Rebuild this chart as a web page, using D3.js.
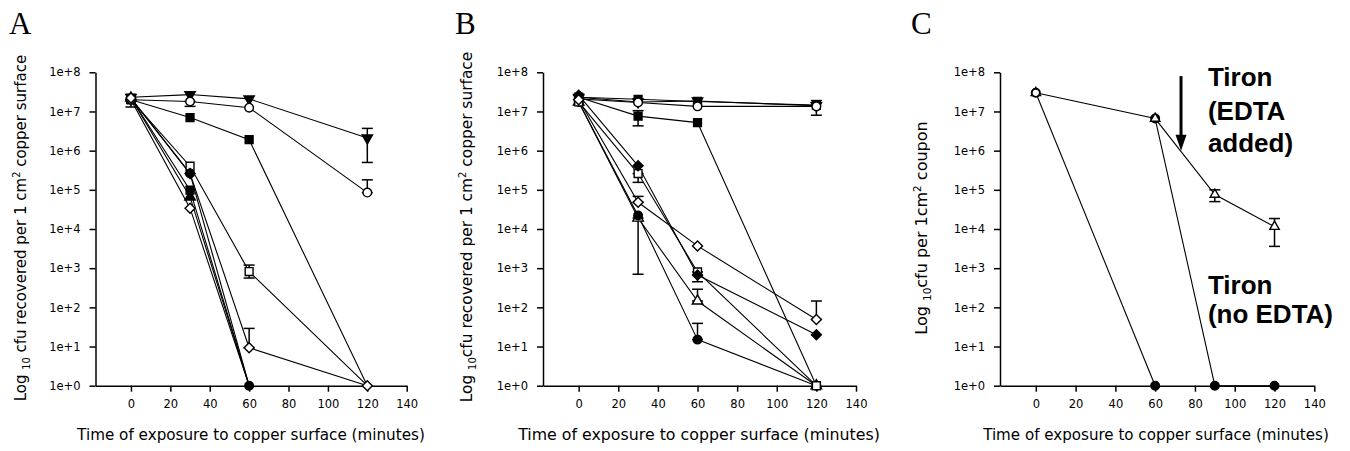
<!DOCTYPE html>
<html>
<head>
<meta charset="utf-8">
<script src="https://cdn.jsdelivr.net/npm/d3@7"></script>
<style>
body { margin: 0; background: #fff; }
svg { display: block; }
.axis path, .axis line { stroke: #000; stroke-width: 1.5; }
.axis text { font-family: "DejaVu Sans"; font-size: 11.5px; fill: #000; }
.lbl { font-family: "DejaVu Sans"; fill: #000; }
</style>
</head>
<body>
<svg id="fig" width="1350" height="451"></svg>
<script>
// ---- data ----
var xTicks = [0, 20, 40, 60, 80, 100, 120, 140]
var yTicks = [1, 1e1, 1e2, 1e3, 1e4, 1e5, 1e6, 1e7, 1e8]
var yTickLabels = ["1e+0", "1e+1", "1e+2", "1e+3", "1e+4", "1e+5", "1e+6", "1e+7", "1e+8"]

var t4 = [0, 30, 60, 120]
var t3 = [0, 30, 60]

// panel A
var aTriDown  = [2.3e7, 2.7e7, 2.1e7, 2.1e6]
var aCircOpen = [2.0e7, 1.8e7, 1.25e7, 8.5e4]
var aSqFill   = [2.0e7, 7.0e6, 1.9e6, 1]
var aSqOpen   = [2.0e7, 4.0e5, 8.2e2, 1]
var aDiaOpen  = [2.2e7, 2.6e5, 9.3, 1]
var aSqFill2  = [2.2e7, 9.8e4, 1]
var aTriFill  = [2.2e7, 6.6e4, 1]
var aDiaOpen2 = [2.0e7, 3.4e4, 1]
var aCircFill = [2.2e7, 2.6e5, 1]
// error bars [time, low, high]
var aTriDownErr  = [[120, 5.0e5, 3.7e6]]
var aCircOpenErr = [[30, 1.35e7, 1.8e7], [120, 8.5e4, 1.8e5]]
var aSqOpenErr   = [[60, 5.6e2, 1.2e3]]
var aDiaOpenErr  = [[60, 9.3, 29]]
var aDiaOpen2Err = [[0, 1.3e7, 2.0e7]]

// panel B
var bSqFill   = [2.3e7, 2.05e7, 1.8e7, 1.45e7]
var bTriDown  = [2.3e7, 1.75e7, 1.85e7, 1.4e7]
var bCircOpen = [2.1e7, 1.7e7, 1.35e7, 1.35e7]
var bSqFill2  = [2.3e7, 7.6e6, 5.2e6, 1]
var bDiaFill  = [2.6e7, 4.1e5, 6.7e2, 20]
var bDiaOpen  = [2.0e7, 4.8e4, 3.7e3, 49]
var bTriOpen  = [1.75e7, 1.9e4, 1.45e2, 1]
var bCircFill = [1.75e7, 2.2e4, 15, 1]
var bSqOpen   = [1.75e7, 2.6e5, 8.0e2, 1]
var bTriDownErr = [[120, 8.0e6, 1.9e7]]
var bSqFill2Err = [[30, 4.3e6, 1.05e7]]
var bDiaOpenErr = [[30, 4.8e4, 6.8e4], [120, 49, 1.45e2]]
var bTriOpenErr = [[30, 7.0e2, 1.9e4], [60, 1.45e2, 2.9e2]]
var bCircFillErr = [[60, 15, 39]]
var bSqOpenErr  = [[30, 1.55e5, 2.6e5], [60, 4.5e2, 8.0e2]]

// panel C
var cTimesNoEdta = [0, 60]
var cNoEdta      = [3.0e7, 1]
var cTimesLate   = [60, 90, 120]
var cLate        = [6.6e6, 1, 1]
var cTimesEdta   = [0, 60, 90, 120]
var cEdta        = [3.0e7, 6.6e6, 7.6e4, 1.15e4]
var cEdtaErr     = [[90, 5.0e4, 1.0e5], [120, 3.6e3, 1.85e4]]

var seriesA = [
	{t: t4, v: aTriDown,  shape: "triDown", fill: true,  err: aTriDownErr},
	{t: t4, v: aCircOpen, shape: "circle",  fill: false, err: aCircOpenErr},
	{t: t4, v: aSqFill,   shape: "square",  fill: true, skip: [3]},
	{t: t4, v: aSqOpen,   shape: "square",  fill: false, err: aSqOpenErr, skip: [3]},
	{t: t3, v: aSqFill2,  shape: "square",  fill: true, skip: [2]},
	{t: t3, v: aTriFill,  shape: "triUp",   fill: true, skip: [2]},
	{t: t3, v: aDiaOpen2, shape: "diamond", fill: false, err: aDiaOpen2Err, skip: [2]},
	{t: t4, v: aDiaOpen,  shape: "diamond", fill: false, err: aDiaOpenErr},
	{t: t3, v: aCircFill, shape: "circle",  fill: true, skip: [0]}
]
var seriesB = [
	{t: t4, v: bSqFill,   shape: "square",  fill: true},
	{t: t4, v: bTriDown,  shape: "triDown", fill: true,  err: bTriDownErr},
	{t: t4, v: bCircOpen, shape: "circle",  fill: false},
	{t: t4, v: bSqFill2,  shape: "square",  fill: true,  err: bSqFill2Err},
	{t: t4, v: bTriOpen,  shape: "triUp",   fill: false, err: bTriOpenErr},
	{t: t4, v: bCircFill, shape: "circle",  fill: true,  err: bCircFillErr},
	{t: t4, v: bSqOpen,   shape: "square",  fill: false, err: bSqOpenErr},
	{t: t4, v: bDiaFill,  shape: "diamond", fill: true},
	{t: t4, v: bDiaOpen,  shape: "diamond", fill: false, err: bDiaOpenErr}
]
var seriesC = [
	{t: cTimesNoEdta, v: cNoEdta, shape: "circle", fill: true},
	{t: cTimesLate,   v: cLate,   shape: "circle", fill: true},
	{t: cTimesEdta,   v: cEdta,   shape: "triUp",  fill: false, err: cEdtaErr, small: true},
	{t: [0], v: [3.0e7], shape: "circle", fill: false, small: true}
]

var svg = d3.select("#fig")

function symbolFor(shape, small) {
	var k = small ? 0.8 : 1
	if (shape == "circle") return {type: d3.symbolCircle, size: 58 * k, rot: 0}
	if (shape == "square") return {type: d3.symbolSquare, size: 62 * k, rot: 0}
	if (shape == "diamond") return {type: d3.symbolSquare, size: 50 * k, rot: 45}
	if (shape == "triUp") return {type: d3.symbolTriangle, size: 48 * k, rot: 0}
	return {type: d3.symbolTriangle, size: 46 * k, rot: 180}
}

function drawPanel(p) {
	var x = d3.scaleLinear().domain([-18, 140]).range([p.left, p.right])
	var y = d3.scaleLog().domain([1, 1e8]).range([385.7, 72.3])
	var g = svg.append("g")

	g.append("g")
		.attr("class", "axis")
		.attr("transform", "translate(0,385.7)")
		.call(d3.axisBottom(x).tickValues(xTicks).tickSize(6).tickSizeOuter(0).tickPadding(8))

	g.append("g")
		.attr("class", "axis")
		.attr("transform", "translate(" + p.left + ",0)")
		.call(d3.axisLeft(y).tickValues(yTicks).tickSize(6).tickSizeOuter(0).tickPadding(9)
			.tickFormat(function(d, i) { return yTickLabels[i] }))

	var line = d3.line()
		.x(function(d) { return x(d[0]) })
		.y(function(d) { return y(d[1]) })

	p.series.forEach(function(s) {
		var pts = s.t.map(function(t, i) { return [t, s.v[i]] })
		if (pts.length > 1)
			g.append("path").datum(pts)
				.attr("d", line)
				.attr("fill", "none")
				.attr("stroke", "#000")
				.attr("stroke-width", 1.1)
	})

	p.series.forEach(function(s) {
		(s.err || []).forEach(function(e) {
			var cx = x(e[0]), y0 = y(e[1]), y1 = y(e[2])
			g.append("line").attr("x1", cx).attr("x2", cx).attr("y1", y0).attr("y2", y1)
				.attr("stroke", "#000").attr("stroke-width", 1.5)
			;[y0, y1].forEach(function(yy) {
				g.append("line").attr("x1", cx - 5.5).attr("x2", cx + 5.5).attr("y1", yy).attr("y2", yy)
					.attr("stroke", "#000").attr("stroke-width", 1.5)
			})
		})
	})

	p.series.forEach(function(s) {
		var sym = symbolFor(s.shape, s.small)
		s.t.forEach(function(t, i) {
			if (s.skip && s.skip.indexOf(i) >= 0) return
			g.append("path")
				.attr("d", d3.symbol().type(sym.type).size(sym.size)())
				.attr("transform", "translate(" + x(t) + "," + y(s.v[i]) + ") rotate(" + sym.rot + ")")
				.attr("fill", s.fill ? "#000" : "#fff")
				.attr("stroke", "#000")
				.attr("stroke-width", 1.4)
		})
	})

	// panel letter
	g.append("text")
		.attr("x", p.letterX).attr("y", 34)
		.style("font-family", "Liberation Serif").style("font-size", "31px")
		.text(p.letter)

	// x label
	g.append("text").attr("class", "lbl")
		.attr("x", p.xLabelX).attr("y", 440)
		.attr("text-anchor", "middle")
		.style("font-size", p.xLabelSize + "px")
		.text("Time of exposure to copper surface (minutes)")

	// y label
	var yl = g.append("text").attr("class", "lbl")
		.attr("transform", "translate(" + p.yLabelX + "," + p.yLabelY + ") rotate(-90)")
		.attr("text-anchor", "middle")
		.style("font-size", p.yLabelSize + "px")
	yl.append("tspan").text("Log ")
	yl.append("tspan").attr("dy", 4).style("font-size", "0.65em").text("10")
	yl.append("tspan").attr("dy", -4).text(p.yLabelMid)
	yl.append("tspan").attr("dy", -6).style("font-size", "0.65em").text("2")
	yl.append("tspan").attr("dy", 6).text(p.yLabelEnd)

	if (p.extra) p.extra(g, x, y)
}

drawPanel({
	left: 95.5, right: 406.7, series: seriesA, letter: "A", letterX: 9,
	xLabelX: 251, xLabelSize: 15.2,
	yLabelX: 26, yLabelY: 228, yLabelSize: 15,
	yLabelMid: " cfu recovered per 1 cm", yLabelEnd: " copper surface"
})
drawPanel({
	left: 543, right: 856, series: seriesB, letter: "B", letterX: 455,
	xLabelX: 699, xLabelSize: 15.8,
	yLabelX: 472, yLabelY: 227, yLabelSize: 15.4,
	yLabelMid: "cfu recovered per 1 cm", yLabelEnd: " copper surface"
})

// panel C annotations in data units: arrow at t=73, text anchored at t=86
var arrowT = 73, arrowTop = 8e7, arrowTip = 1e6
var labelT = 86.5
var edtaLines = ["Tiron", "(EDTA", "added)"], edtaY = [4.6e7, 6.2e6, 9.3e5]
var noEdtaLines = ["Tiron", "(no EDTA)"], noEdtaY = [2.2e2, 4.0e1]

drawPanel({
	left: 1000, right: 1314.3, series: seriesC, letter: "C", letterX: 911,
	xLabelX: 1156, xLabelSize: 15.1,
	yLabelX: 927, yLabelY: 228, yLabelSize: 16,
	yLabelMid: "cfu per 1cm", yLabelEnd: " coupon",
	extra: function(g, x, y) {
		var ax = x(arrowT), yTop = y(arrowTop), yTip = y(arrowTip)
		g.append("line").attr("x1", ax).attr("x2", ax).attr("y1", yTop).attr("y2", yTip - 14)
			.attr("stroke", "#000").attr("stroke-width", 3)
		g.append("path")
			.attr("d", "M" + (ax - 5.5) + "," + (yTip - 16) + "L" + (ax + 5.5) + "," + (yTip - 16) + "L" + ax + "," + yTip + "Z")
			.attr("fill", "#000")
		var txt = function(lines, ys) {
			lines.forEach(function(s, i) {
				g.append("text")
					.attr("x", x(labelT)).attr("y", y(ys[i]))
					.style("font-family", "Liberation Sans").style("font-weight", "bold").style("font-size", "26px")
					.text(s)
			})
		}
		txt(edtaLines, edtaY)
		txt(noEdtaLines, noEdtaY)
	}
})
</script>
</body>
</html>
